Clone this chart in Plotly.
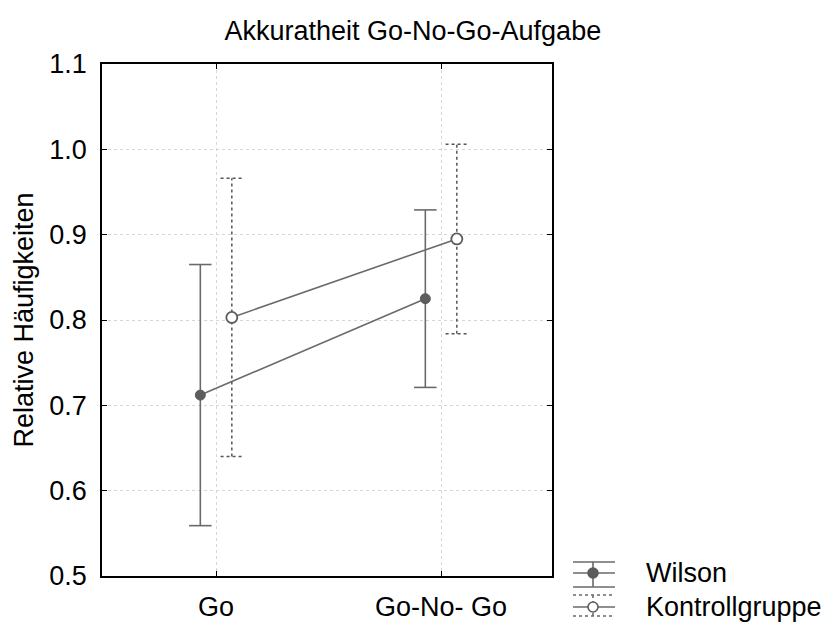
import plotly.graph_objects as go

# Group means and error half-widths (relative frequencies)
categories = ["Go", "Go-No- Go"]
wilson_mean = [0.712, 0.825]
wilson_err = [0.153, 0.104]
kontroll_mean = [0.803, 0.895]
kontroll_err = [0.163, 0.111]
series_names = ["Wilson", "Kontrollgruppe"]
y_ticks = [0.5, 0.6, 0.7, 0.8, 0.9, 1.0, 1.1]

FONT = "Liberation Sans, Arial, sans-serif"
DARK = "#5c5c5c"
GRID = "#d6d6d6"

# figure geometry (px)
W, H = 834, 624
L, R, T, B = 102, 282, 64, 48
PW, PH = W - L - R, H - T - B

x_pos = list(range(len(categories)))
dodge = 0.07      # horizontal shift of each group around the category
cap = 0.05        # half width of error-bar caps in x units


def err_path(xs, means, errs):
    px, py = [], []
    for x, m, e in zip(xs, means, errs):
        lo, hi = m - e, m + e
        px += [x, x, None, x - cap, x + cap, None, x - cap, x + cap, None]
        py += [lo, hi, None, hi, hi, None, lo, lo, None]
    return px, py


xw = [x - dodge for x in x_pos]
xk = [x + dodge for x in x_pos]

fig = go.Figure()

ex, ey = err_path(xk, kontroll_mean, kontroll_err)
fig.add_trace(go.Scatter(x=ex, y=ey, mode="lines", hoverinfo="skip",
                         line=dict(color="#555555", width=1.5, dash="dot"),
                         showlegend=False))
ex, ey = err_path(xw, wilson_mean, wilson_err)
fig.add_trace(go.Scatter(x=ex, y=ey, mode="lines", hoverinfo="skip",
                         line=dict(color="#6a6a6a", width=1.6),
                         showlegend=False))

fig.add_trace(go.Scatter(x=xw, y=wilson_mean, mode="lines+markers", name=series_names[0],
                         line=dict(color="#6a6a6a", width=1.6),
                         marker=dict(symbol="circle", size=10, color=DARK,
                                     line=dict(color=DARK, width=1)),
                         showlegend=False))
fig.add_trace(go.Scatter(x=xk, y=kontroll_mean, mode="lines+markers", name=series_names[1],
                         line=dict(color="#6a6a6a", width=1.6),
                         marker=dict(symbol="circle", size=11, color="white",
                                     line=dict(color=DARK, width=1.8)),
                         showlegend=False))

# hand-drawn legend block to the lower right of the plot
def px2paper(px, py):
    return (px - L) / PW, (H - B - py) / PH

shapes = []
annotations = []
legend_rows = [
    dict(y_top=562, y_mid=573, y_bot=587, dash="solid", filled=True),
    dict(y_top=595, y_mid=607, y_bot=616, dash="dot", filled=False),
]
x0, x1, xc = 573, 615, 593
for name, row in zip(series_names, legend_rows):
    for yy in (row["y_top"], row["y_bot"]):
        a = px2paper(x0, yy); b = px2paper(x1, yy)
        shapes.append(dict(type="line", xref="paper", yref="paper",
                           x0=a[0], y0=a[1], x1=b[0], y1=b[1],
                           line=dict(color="#6a6a6a", width=1.6, dash=row["dash"])))
    a = px2paper(xc, row["y_top"]); b = px2paper(xc, row["y_bot"])
    shapes.append(dict(type="line", xref="paper", yref="paper",
                       x0=a[0], y0=a[1], x1=b[0], y1=b[1],
                       line=dict(color="#6a6a6a", width=1.6, dash=row["dash"])))
    a = px2paper(x0, row["y_mid"]); b = px2paper(x1, row["y_mid"])
    shapes.append(dict(type="line", xref="paper", yref="paper",
                       x0=a[0], y0=a[1], x1=b[0], y1=b[1],
                       line=dict(color="#6a6a6a", width=1.6)))
    r = 5
    a = px2paper(xc - r, row["y_mid"] + r); b = px2paper(xc + r, row["y_mid"] - r)
    shapes.append(dict(type="circle", xref="paper", yref="paper",
                       x0=a[0], y0=a[1], x1=b[0], y1=b[1],
                       fillcolor=DARK if row["filled"] else "white",
                       line=dict(color=DARK, width=1.6)))
    t = px2paper(644, row["y_mid"])
    annotations.append(dict(text=name, xref="paper", yref="paper", x=t[0], y=t[1],
                            xanchor="left", yanchor="middle", showarrow=False,
                            font=dict(family=FONT, size=27, color="black")))

fig.update_layout(
    width=W, height=H,
    margin=dict(l=L, r=R, t=T, b=B, autoexpand=False),
    paper_bgcolor="white", plot_bgcolor="white",
    title=dict(text="Akkuratheit Go-No-Go-Aufgabe", x=0.495, xanchor="center",
               y=1 - 31 / H, yanchor="middle",
               font=dict(family=FONT, size=27, color="black")),
    shapes=shapes, annotations=annotations,
    showlegend=False,
)
fig.update_xaxes(range=[-0.507, 1.493], tickvals=x_pos, ticktext=categories,
                 automargin=False,
                 showgrid=True, gridcolor=GRID, griddash="dot", gridwidth=1,
                 zeroline=False, showline=True, linecolor="black", linewidth=1.5,
                 mirror="ticks", ticks="inside", ticklen=5, tickcolor="black",
                 ticklabelstandoff=6,
                 tickfont=dict(family=FONT, size=27, color="black"))
fig.update_yaxes(range=[0.5, 1.1], tickvals=y_ticks, tickformat=".1f",
                 automargin=False,
                 showgrid=True, gridcolor=GRID, griddash="dot", gridwidth=1,
                 zeroline=False, showline=True, linecolor="black", linewidth=1.5,
                 mirror="ticks", ticks="inside", ticklen=5, tickcolor="black",
                 ticklabelstandoff=8,
                 tickfont=dict(family=FONT, size=27, color="black"),
                 title=dict(text="Relative Häufigkeiten", standoff=8,
                            font=dict(family=FONT, size=27, color="black")))

fig.write_html("out.html")
